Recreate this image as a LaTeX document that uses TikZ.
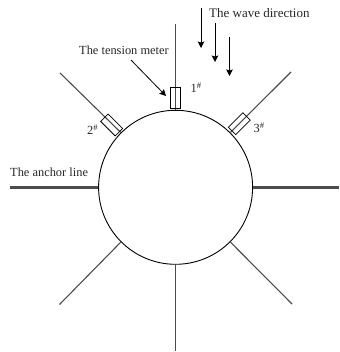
\documentclass[tikz,border=0pt]{standalone}
\usepackage{fontspec}
\setmainfont{Liberation Serif}
\usetikzlibrary{arrows.meta}
\tikzset{
  hull/.style={circle,draw=black,line width=0.9pt,inner sep=0pt,minimum size=154pt},
  thin anchor/.style={draw=black!70,line width=1.1pt},
  thick anchor/.style={draw=black!70,line width=3.2pt},
  meter/.style={draw=black,line width=0.75pt,inner sep=0pt,minimum width=20.5pt,minimum height=10.5pt},
  wave/.style={draw=black,line width=0.8pt,-{Stealth[length=6.5pt,width=6.5pt,inset=1pt]}},
  main text/.style={inner sep=0pt,font=\fontsize{12.4}{15}\selectfont,text=black!85},
  wave text/.style={inner sep=0pt,font=\fontsize{13}{15}\selectfont,text=black!85},
}
\begin{document}
\begin{tikzpicture}[x=1pt,y=-1pt]
\useasboundingbox (0,0) rectangle (339,352);
\node[hull] (hull) at (175.6,187.3) {};
\coordinate (a1) at (175.6,24);
\coordinate (a2) at (60,73);
\coordinate (a3) at (291,72);
\coordinate (a4) at (339,187.3);
\coordinate (a5) at (292,304);
\coordinate (a6) at (175.6,351);
\coordinate (a7) at (59.5,304.5);
\coordinate (a8) at (10,187.3);
\draw[thin anchor] (a1) -- (hull.90);
\draw[thin anchor] (a2) -- (hull.135);
\draw[thin anchor] (a3) -- (hull.45);
\draw[thick anchor] (a4) -- (hull.0);
\draw[thin anchor] (a5) -- (hull.-45);
\draw[thin anchor] (a6) -- (hull.-90);
\draw[thin anchor] (a7) -- (hull.-135);
\draw[thick anchor] (a8) -- (hull.180);
\node[meter,rotate=90] (m1) at (175.6,98) {};
\node[meter,rotate=-45] (m2) at (111.7,125) {};
\node[meter,rotate=45] (m3) at (239.3,123.7) {};
\coordinate (w1s) at (201,8);
\coordinate (w1e) at (201,48);
\coordinate (w2s) at (215,23);
\coordinate (w2e) at (215,62);
\coordinate (w3s) at (229.5,37);
\coordinate (w3e) at (229.5,76);
\draw[wave] (w1s) -- (w1e);
\draw[wave] (w2s) -- (w2e);
\draw[wave] (w3s) -- (w3e);
\coordinate (ts) at (131,60);
\coordinate (te) at (166,96);
\draw[wave] (ts) -- (te);
\node[wave text,anchor=base west] (wt) at (209,17.5) {The wave direction};
\node[main text,anchor=base west] (tt) at (79,55) {The tension meter};
\node[main text,anchor=base west] (at) at (10,177) {The anchor line};
\node[main text,anchor=base west] (l1) at (190.5,93) {1\textsuperscript{\#}};
\node[main text,anchor=base west] (l2) at (87,134.5) {2\textsuperscript{\#}};
\node[main text,anchor=base west] (l3) at (253.5,132.5) {3\textsuperscript{\#}};
\end{tikzpicture}
\end{document}
